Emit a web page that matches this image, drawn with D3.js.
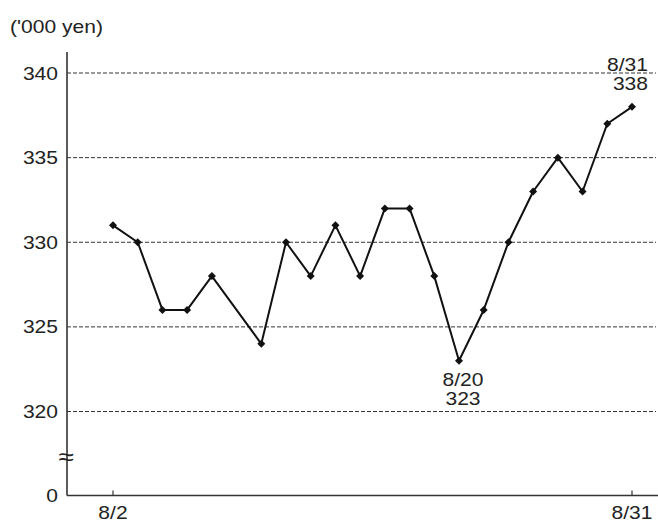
<!DOCTYPE html>
<html>
<head>
<meta charset="utf-8">
<script src="https://cdn.jsdelivr.net/npm/d3@7"></script>
<style>
  html, body { margin: 0; padding: 0; background: #fff; }
  svg { display: block; }
  text { font-family: "Liberation Sans", Arial, Helvetica, sans-serif; fill: #222; }
</style>
</head>
<body>
<svg id="chart" width="658" height="522"></svg>
<script>
// Trading days in August (8/9 was a market holiday, so it has no value)
const dates = ["8/2","8/3","8/4","8/5","8/6","8/9","8/10","8/11","8/12","8/13",
               "8/16","8/17","8/18","8/19","8/20","8/23","8/24","8/25","8/26","8/27",
               "8/30","8/31"];
// Price in thousands of yen
const values = [331,330,326,326,328,null,324,330,328,331,
                328,332,332,328,323,326,330,333,335,333,
                337,338];
const yTicks = [320,325,330,335,340];
const xTickLabels = ["8/2","8/31"];
const unitLabel = "('000 yen)";

const svg = d3.select("#chart");
const FONT = 18, SX = 1.17;

// Place text with a slightly widened typeface
function label(sel, str, px, py, anchor, size) {
  return sel.append("text")
    .attr("transform", `translate(${px},${py}) scale(${SX},1)`)
    .attr("text-anchor", anchor || "start")
    .attr("font-size", size || FONT)
    .text(str);
}

const plotLeft = 67, plotRight = 656, plotTop = 52, plotBottom = 495.5;

const x = d3.scalePoint().domain(dates).range([113, 632]);
const y = d3.scaleLinear().domain([320, 340]).range([411.5, 73]);

// Horizontal dashed gridlines
svg.append("g").selectAll("line").data(yTicks).join("line")
  .attr("x1", plotLeft).attr("x2", plotRight)
  .attr("y1", d => y(d)).attr("y2", d => y(d))
  .attr("stroke", "#333").attr("stroke-width", 1)
  .attr("stroke-dasharray", "4,2");

// Y tick labels
const yl = svg.append("g");
yTicks.forEach(t => label(yl, t, 58, y(t) + 6.5, "end"));
label(yl, "0", 58, plotBottom + 6.5, "end");

// Axis lines
svg.append("line").attr("x1", plotLeft).attr("x2", plotLeft).attr("y1", plotTop).attr("y2", plotBottom)
  .attr("stroke", "#333").attr("stroke-width", 1.6);
svg.append("line").attr("x1", plotLeft).attr("x2", 658).attr("y1", plotBottom).attr("y2", plotBottom)
  .attr("stroke", "#333").attr("stroke-width", 1.6);

// Axis break mark
label(svg, "\u2248", plotLeft - 1, 465, "middle", 24);

// X ticks (first and last day)
svg.append("g").selectAll("line").data(xTickLabels).join("line")
  .attr("x1", d => x(d)).attr("x2", d => x(d))
  .attr("y1", plotBottom).attr("y2", plotBottom - 5)
  .attr("stroke", "#333").attr("stroke-width", 1.2);
xTickLabels.forEach(d => label(svg, d, x(d), 519, "middle"));

// Unit label
label(svg, unitLabel, 10, 33, "start");

// Price line (connects across the holiday)
const pts = dates.map((d, i) => ({ d, v: values[i] })).filter(p => p.v !== null);
svg.append("path").datum(pts)
  .attr("fill", "none").attr("stroke", "#111").attr("stroke-width", 2)
  .attr("stroke-linejoin", "round")
  .attr("d", d3.line().x(p => x(p.d)).y(p => y(p.v)));

// Diamond markers (squares turned 45 degrees)
svg.append("g").selectAll("path").data(pts).join("path")
  .attr("transform", p => `translate(${x(p.d)},${y(p.v)}) rotate(45)`)
  .attr("d", d3.symbol(d3.symbolSquare, 32))
  .attr("fill", "#111");

// Low and last-day annotations
const low = pts[13];              // 8/20
const last = pts[pts.length - 1]; // 8/31
label(svg, low.d, x(low.d) + 4, y(low.v) + 25, "middle");
label(svg, low.v, x(low.d) + 4, y(low.v) + 44, "middle");
label(svg, last.d, x(last.d) + 16, y(last.v) - 36, "end");
label(svg, last.v, x(last.d) + 16, y(last.v) - 17, "end");
</script>
</body>
</html>
